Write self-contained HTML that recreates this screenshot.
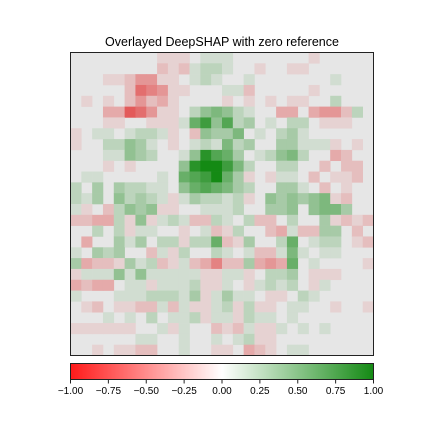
<!DOCTYPE html>
<html><head><meta charset="utf-8"><style>
body{margin:0;background:#fff;width:432px;height:432px;overflow:hidden;font-family:"Liberation Sans",sans-serif}
</style></head><body>
<svg id="chart" width="432" height="432" xmlns="http://www.w3.org/2000/svg">
<defs><linearGradient id="cb" x1="0" x2="1" y1="0" y2="0">
<stop offset="0" stop-color="#ff1a1a"/><stop offset="0.5" stop-color="#ffffff"/><stop offset="1" stop-color="#148a14"/></linearGradient></defs>
<text x="222" y="46" text-anchor="middle" font-size="12.5" fill="#000">Overlayed DeepSHAP with zero reference</text>
<g id="cells"></g>
<rect x="70.5" y="52.5" width="303" height="303" fill="none" stroke="#222" stroke-width="1"/>
<rect x="70.5" y="363.5" width="303" height="16" fill="url(#cb)" stroke="#222" stroke-width="1"/>
<g id="cbticks"></g>
</svg>
<script>
// sparse per-row entries: [column, value in tenths]
const rowEntries = [
[[8,-1],[9,-1],[10,-1],[12,1],[13,1],[14,1],[22,-1]],
[[8,-2],[9,-1],[10,-2],[11,1],[12,2],[13,2],[14,1],[17,-1],[20,-1],[21,-1]],
[[3,-1],[4,-1],[5,-2],[6,-4],[7,-4],[8,-1],[9,-1],[11,1],[12,2],[13,1],[16,1],[24,1]],
[[5,-2],[6,-6],[7,-5],[8,-4],[9,-1],[10,-1],[14,1],[15,1],[16,-2],[22,-1]],
[[1,-1],[3,-1],[5,-2],[6,-4],[7,-2],[8,-3],[9,-1],[14,-1],[16,-1],[18,-1],[20,-1],[21,-1],[24,2]],
[[3,-3],[4,-3],[5,-7],[6,-6],[7,-4],[8,-1],[9,-1],[11,2],[12,4],[13,5],[14,4],[15,2],[16,1],[19,-3],[20,-3],[22,-3],[23,-4],[24,-4],[25,-2],[26,2]],
[[3,-1],[4,-1],[7,-1],[8,-1],[9,-1],[10,1],[11,6],[12,8],[13,4],[14,7],[15,2],[16,3],[18,1],[20,2],[21,2],[23,-1],[24,-1],[25,-1]],
[[0,-1],[2,1],[3,1],[5,1],[6,2],[7,2],[8,1],[9,-1],[11,-2],[12,4],[13,3],[14,3],[15,5],[17,1],[19,2],[20,3],[21,1]],
[[0,-1],[3,2],[4,2],[5,4],[6,3],[7,1],[9,-1],[11,1],[12,2],[13,1],[14,5],[15,2],[16,3],[19,3],[20,3],[21,1],[22,1],[23,1],[24,-1],[26,-1]],
[[3,1],[4,1],[5,4],[6,3],[7,2],[10,1],[11,4],[12,9],[13,7],[14,6],[15,3],[17,1],[18,2],[19,4],[20,5],[21,2],[24,-3],[25,-2]],
[[3,-1],[5,-1],[10,4],[11,9],[12,10],[13,10],[14,8],[15,5],[16,2],[19,2],[20,2],[23,-2],[25,-2],[26,-2]],
[[1,1],[2,1],[8,1],[10,6],[11,7],[12,8],[13,10],[14,6],[15,3],[16,-1],[18,-1],[19,1],[20,1],[22,-2],[24,-1],[25,-1],[26,-2]],
[[0,2],[2,3],[4,3],[5,2],[6,2],[7,1],[8,1],[10,4],[11,6],[12,7],[13,6],[14,5],[15,3],[16,2],[19,3],[20,3],[21,1],[23,-2],[25,-1]],
[[0,2],[1,1],[2,3],[4,4],[5,2],[6,3],[7,2],[8,1],[9,-1],[10,1],[11,3],[12,2],[13,2],[14,1],[15,2],[16,-1],[18,4],[19,3],[20,4],[21,3],[22,4],[23,5],[24,-1],[25,-2]],
[[0,1],[1,-1],[3,-2],[4,2],[5,4],[6,3],[7,4],[8,-1],[9,-1],[12,1],[13,1],[14,1],[15,2],[18,3],[19,3],[20,4],[22,4],[23,5],[24,5],[25,3]],
[[0,-2],[1,-2],[2,-3],[3,-3],[4,2],[5,-1],[6,4],[7,-1],[8,1],[9,2],[10,1],[11,-2],[12,-2],[13,2],[14,1],[16,2],[17,-2],[18,-2],[20,2],[23,3],[24,-1],[25,-2],[26,-1],[27,-2]],
[[2,2],[4,2],[5,-1],[6,1],[7,1],[10,-1],[12,1],[13,-2],[14,-1],[15,2],[18,-2],[19,-3],[20,1],[21,-2],[22,-2],[23,3],[24,3],[26,-2]],
[[1,-3],[4,3],[5,1],[6,3],[8,2],[9,2],[10,-1],[11,2],[12,2],[13,6],[14,-2],[15,-1],[16,3],[19,2],[20,6],[22,1],[23,2],[24,2],[26,-1],[27,-2]],
[[0,1],[2,3],[3,2],[4,3],[7,-2],[8,1],[9,-1],[10,2],[13,2],[14,1],[16,1],[17,-2],[18,-2],[19,1],[20,5],[21,1],[23,1],[24,1]],
[[0,3],[1,-3],[2,-2],[3,-2],[4,-1],[5,3],[6,1],[7,2],[8,-2],[9,-1],[10,1],[11,-2],[12,-3],[13,-5],[14,-2],[15,-2],[16,3],[17,-3],[18,-4],[19,-3],[20,6],[22,1],[27,-1]],
[[0,-1],[1,1],[2,1],[3,1],[4,4],[5,1],[6,4],[7,1],[8,1],[9,1],[10,1],[11,1],[12,-1],[13,-1],[14,1],[15,1],[16,-1],[18,2],[19,2],[20,3],[22,-1],[23,-1],[24,-1]],
[[0,-3],[1,-2],[2,-3],[3,-3],[5,1],[6,1],[7,-1],[8,1],[9,1],[10,1],[11,2],[12,-1],[13,-1],[14,1],[16,-1],[17,1],[18,2],[19,1],[20,2],[22,-1],[23,1]],
[[0,1],[4,1],[5,1],[6,1],[7,2],[8,2],[9,2],[10,1],[11,3],[12,-1],[13,1],[14,3],[15,1],[16,1],[18,-1],[19,-1],[21,2],[22,1]],
[[1,-1],[2,-2],[4,-1],[5,-1],[6,-2],[7,-2],[8,1],[9,-2],[10,1],[11,-1],[12,-1],[13,1],[14,2],[15,-1],[16,2],[17,-1],[18,-1],[20,1],[21,1],[24,-1],[27,-1]],
[[3,1],[5,1],[7,2],[9,1],[10,1],[11,2],[12,-1],[13,1],[14,1],[15,-1],[16,2],[17,1],[18,1],[20,1]],
[[0,-1],[1,-1],[2,-1],[3,-1],[4,-1],[5,-1],[8,1],[9,-1],[10,1],[13,-2],[14,-1],[15,-2],[16,1],[17,-1],[18,-1],[19,1],[21,1],[23,1]],
[[6,1],[7,1],[10,1],[13,1],[15,1],[16,2],[17,-1],[18,-1]],
[[2,-1],[4,-1],[5,-1],[6,-2],[7,-2],[10,1],[13,-1],[14,-1],[16,-3],[17,-2],[18,-1],[20,1],[21,1]]
];
const tickValues = [-1,-0.75,-0.5,-0.25,0,0.25,0.5,0.75,1];
const tickLabels = ["\u22121.00","\u22120.75","\u22120.50","\u22120.25","0.00","0.25","0.50","0.75","1.00"];

const NS="http://www.w3.org/2000/svg";
const X0=70.5,Y0=52.5,W=303,N=28,cs=W/N;
const xCell=c=>X0+c*cs, yCell=r=>Y0+r*cs;
const cbX=v=>70.5+(v+1)/2*303;
function color(v){
  const g=[230,230,230];
  const t=v<0?[225,30,30]:[20,138,20];
  const a=Math.min(1,Math.abs(v));
  return `rgb(${g.map((x,i)=>Math.round(x+(t[i]-x)*a)).join(',')})`;
}
const cells=document.getElementById('cells');
const bg=document.createElementNS(NS,'rect');
bg.setAttribute('x',X0);bg.setAttribute('y',Y0);bg.setAttribute('width',W);bg.setAttribute('height',W);bg.setAttribute('fill','#e6e6e6');


cells.appendChild(bg);
rowEntries.forEach((row,r)=>{
  row.forEach(([c,v])=>{
    const e=document.createElementNS(NS,'rect');
    e.setAttribute('x',xCell(c));e.setAttribute('y',yCell(r));
    e.setAttribute('width',cs+0.3);e.setAttribute('height',cs+0.3);
    e.setAttribute('fill',color(v/10));
    
    
    cells.appendChild(e);
  });
});
const tg=document.getElementById('cbticks');
tickValues.forEach((v,i)=>{
  const x=cbX(v);
  const l=document.createElementNS(NS,'line');
  l.setAttribute('x1',x);l.setAttribute('x2',x);l.setAttribute('y1',380);l.setAttribute('y2',383.5);l.setAttribute('stroke','#222');
  
  
  tg.appendChild(l);
  const t=document.createElementNS(NS,'text');
  t.setAttribute('x',x);t.setAttribute('y',394);t.setAttribute('text-anchor','middle');t.setAttribute('font-size','10');
  t.textContent=tickLabels[i];
  
  
  tg.appendChild(t);
});
</script>
</body></html>
